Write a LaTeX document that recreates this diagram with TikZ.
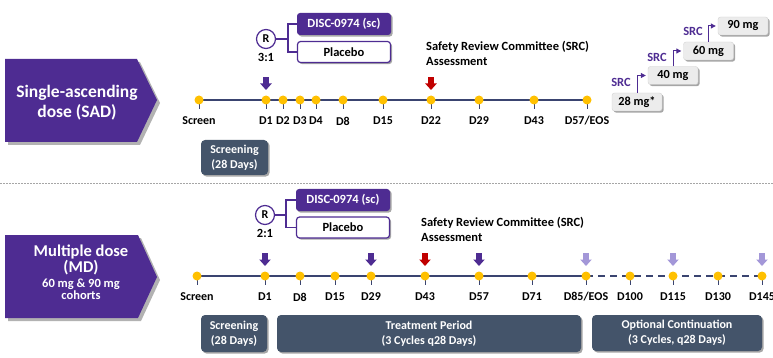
\documentclass[tikz,border=0pt]{standalone}
\usepackage{fontspec}
\setmainfont{Carlito}
\usetikzlibrary{shadows,arrows.meta,backgrounds}
\definecolor{purpC}{HTML}{4E2C92}
\definecolor{lineC}{HTML}{3A4470}
\definecolor{dotC}{HTML}{FFC000}
\definecolor{phaseC}{HTML}{44546A}
\definecolor{redC}{HTML}{C00000}
\definecolor{lavC}{HTML}{A397D8}
\definecolor{doseC}{HTML}{ECECEC}
\begin{document}
\begin{tikzpicture}[x=1pt,y=-1pt,
  shad/.style={drop shadow={shadow xshift=1.6pt,shadow yshift=-1.6pt,opacity=0.35,fill=black}},
  bigshad/.style={drop shadow={shadow xshift=3pt,shadow yshift=-3pt,opacity=0.3,fill=black}},
  lbl/.style={font=\bfseries\fontsize{12}{14}\selectfont, text=black, inner sep=0pt},
  txt/.style={font=\bfseries\fontsize{12.5}{14}\selectfont, text=black, inner sep=0pt},
  armtxt/.style={font=\bfseries\fontsize{17.5}{20}\selectfont, text=white, inner sep=0pt, anchor=base},
  mdtxt/.style={font=\bfseries\fontsize{16.5}{18}\selectfont, text=white, inner sep=0pt, anchor=base},
  subtxt/.style={font=\bfseries\fontsize{12.5}{14}\selectfont, text=white, inner sep=0pt, anchor=base},
  dotn/.style={circle, fill=dotC, minimum size=9pt, inner sep=0pt},
  tline/.style={draw=lineC, line width=1.2pt},
  tickl/.style={draw=lineC, line width=0.9pt},
  phasebox/.style={shad, fill=phaseC, rounded corners=4pt, text=white, align=center, inner sep=0pt,
     font=\bfseries\fontsize{12}{15}\selectfont},
  discbox/.style={shad, fill=purpC, rounded corners=3pt, text=white, minimum width=94pt, minimum height=22pt,
     inner sep=0pt, font=\bfseries\fontsize{12.5}{14}\selectfont},
  placbox/.style={shad, fill=white, draw=purpC, line width=1.2pt, rounded corners=3pt, text=black,
     minimum width=93pt, minimum height=21pt, inner sep=0pt, font=\bfseries\fontsize{12.5}{14}\selectfont},
  rcirc/.style={circle, draw=purpC, line width=1.2pt, fill=white, minimum size=19pt, inner sep=0pt,
     font=\bfseries\fontsize{12}{14}\selectfont},
  bracket/.style={draw=purpC, line width=1.1pt},
  dosebox/.style={shad, fill=doseC, draw=gray!35, line width=0.4pt, rounded corners=2.5pt, minimum width=50pt,
     minimum height=18pt, inner sep=0pt, font=\bfseries\fontsize{12.3}{14}\selectfont},
  srctxt/.style={font=\bfseries\fontsize{12.5}{14}\selectfont, text=purpC, inner sep=0pt},
  srcarrow/.style={draw=purpC, line width=1pt, -{Triangle[length=5pt,width=5pt]}, shorten >=2pt},
  dnarrow/.pic={\fill[#1] (-2.7,-13) rectangle (2.7,-6); \fill[#1] (-5.8,-6.5) -- (5.8,-6.5) -- (0,0) -- cycle;}
]
\useasboundingbox (0,0) rectangle (773,358);

% ---------- SAD arm ----------
\fill[purpC, bigshad] (5,59) -- (137,59) -- (157,100) -- (137,142) -- (5,142) -- cycle;
\node[armtxt] (sadt1) at (77,98) {Single-ascending};
\node[armtxt] (sadt2) at (77,118) {dose (SAD)};

\foreach \x/\n/\t in {199/scr/Screen,266/d1/D1,283/d2/D2,300/d3/D3,316/d4/D4,343/d8/D8,383/d15/D15,431/d22/D22,479/d29/D29,534/d43/D43}{
  \draw[tickl] (\x,100) -- (\x,109);
  \node[dotn] (sad-\n) at (\x,100) {};
  \node[lbl] (sadl-\n) at (\x,121) {\t};
}
\draw[tickl] (587,100) -- (587,109);
\node[dotn] (sad-d57) at (587,100) {};
\node[lbl] (sadl-d57) at (587,121) {D57/EOS};
\begin{scope}[on background layer]
  \draw[tline] (sad-scr.center) -- (sad-d57.center);
\end{scope}

\pic at (266,90) {dnarrow=purpC};
\pic at (431,90) {dnarrow=redC};

\node[rcirc] (sadR) at (266,39) {R};
\node[txt] (sadratio) at (266,57) {3:1};
\node[discbox] (saddisc) at (344,24) {DISC-0974 (sc)};
\node[placbox] (sadplac) at (344,52) {Placebo};
\coordinate (sadbr) at (288,39);
\draw[bracket] (sadR.east) -- (sadbr);
\draw[bracket] (saddisc.west) -| (sadbr) |- (sadplac.west);

\node[txt, anchor=base west] (sadsrc1) at (426,51) {Safety Review Committee (SRC)};
\node[txt, anchor=base west] (sadsrc2) at (426,66) {Assessment};

\node[phasebox, minimum width=67pt, minimum height=35pt] (sadscreen) at (234.5,157.5) {Screening\\(28 Days)};

% dose escalation
\node[dosebox] (b28) at (637,102) {28 mg*};
\node[dosebox] (b40) at (673,75.5) {40 mg};
\node[dosebox] (b60) at (708.5,51) {60 mg};
\node[dosebox] (b90) at (743,26) {90 mg};
\draw[srcarrow] (b28.north) |- (b40.west);
\draw[srcarrow] (b40.north) |- (b60.west);
\draw[srcarrow] (b60.north) |- (b90.west);
\node[srctxt] (src1) at (621,82) {SRC};
\node[srctxt] (src2) at (657,57) {SRC};
\node[srctxt] (src3) at (693,31) {SRC};

% separator
\coordinate (sepL) at (0,183);
\coordinate (sepR) at (773,183);
\draw[gray!70, line width=0.5pt, dash pattern=on 1.5pt off 1.5pt] (sepL) -- (sepR);

% ---------- MD arm ----------
\fill[purpC, bigshad] (5,235) -- (138,235) -- (157,277) -- (138,318) -- (5,318) -- cycle;
\node[mdtxt] (mdt1) at (81,256) {Multiple dose};
\node[mdtxt] (mdt2) at (81,272.5) {(MD)};
\node[subtxt] (mdt3) at (81,287.5) {60 mg \& 90 mg};
\node[subtxt] (mdt4) at (81,299.5) {cohorts};

\foreach \x/\n/\t in {197/scr/Screen,265/d1/D1,300/d8/D8,335/d15/D15,371/d29/D29,425/d43/D43,479/d57/D57,532/d71/D71,630/d100/D100,673/d115/D115,718/d130/D130,762/d145/D145}{
  \draw[tickl] (\x,276) -- (\x,285);
  \node[dotn] (md-\n) at (\x,276) {};
  \node[lbl] (mdl-\n) at (\x,297) {\t};
}
\draw[tickl] (586,276) -- (586,285);
\node[dotn] (md-d85) at (586,276) {};
\node[lbl] (mdl-d85) at (586,297) {D85/EOS};
\begin{scope}[on background layer]
  \draw[tline] (md-scr.center) -- (md-d85.center);
  \draw[tline, dash pattern=on 7pt off 5pt] (md-d85.center) -- (md-d145.center);
\end{scope}

\pic at (265,266) {dnarrow=purpC};
\pic at (371,266) {dnarrow=purpC};
\pic at (425,266) {dnarrow=redC};
\pic at (479,266) {dnarrow=purpC};
\pic at (586,266) {dnarrow=lavC};
\pic at (673,266) {dnarrow=lavC};
\pic at (762,266) {dnarrow=lavC};

\node[rcirc] (mdR) at (265,215) {R};
\node[txt] (mdratio) at (265,233) {2:1};
\node[discbox] (mddisc) at (343,200) {DISC-0974 (sc)};
\node[placbox] (mdplac) at (343,227.5) {Placebo};
\coordinate (mdbr) at (286,215);
\draw[bracket] (mdR.east) -- (mdbr);
\draw[bracket] (mddisc.west) -| (mdbr) |- (mdplac.west);

\node[txt, anchor=base west] (mdsrc1) at (421,226) {Safety Review Committee (SRC)};
\node[txt, anchor=base west] (mdsrc2) at (421,241) {Assessment};

\node[phasebox, minimum width=66pt, minimum height=37pt] (mdscreen) at (234,333.5) {Screening\\(28 Days)};
\node[phasebox, minimum width=304pt, minimum height=37pt] (mdtreat) at (429,333.5) {Treatment Period\\(3 Cycles q28 Days)};
\node[phasebox, minimum width=170pt, minimum height=36pt] (mdopt) at (677,333) {Optional Continuation\\(3 Cycles, q28 Days)};
\end{tikzpicture}
\end{document}
